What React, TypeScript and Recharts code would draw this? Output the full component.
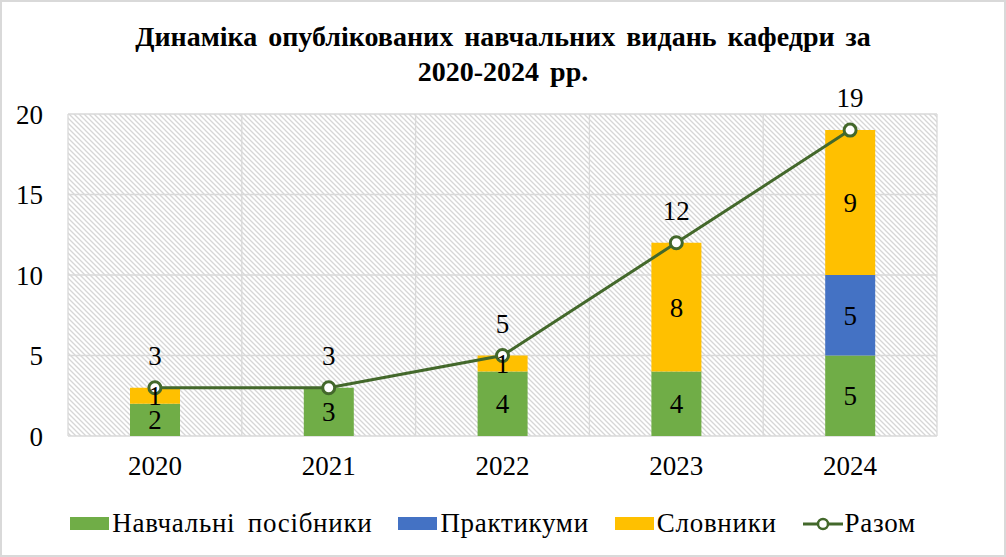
import { ComposedChart, Bar, Line, XAxis, YAxis, CartesianGrid, LabelList } from "recharts";

const years = ["2020", "2021", "2022", "2023", "2024"];
const textbooks = [2, 3, 4, 4, 5];
const practicums = [0, 0, 0, 0, 5];
const dictionaries = [1, 0, 1, 8, 9];
const totals = [3, 3, 5, 12, 19];
const yTicks = [0, 5, 10, 15, 20];

const series = [
  { key: "textbooks", name: "Навчальні посібники", color: "#70AD47", type: "bar" },
  { key: "practicums", name: "Практикуми", color: "#4472C4", type: "bar" },
  { key: "dictionaries", name: "Словники", color: "#FFC000", type: "bar" },
  { key: "total", name: "Разом", color: "#43682B", type: "line" },
];

const data = years.map((year, i) => ({
  year,
  textbooks: textbooks[i],
  practicums: practicums[i],
  dictionaries: dictionaries[i],
  total: totals[i],
}));

const font = '"Liberation Serif", serif';
const fs = 27;
const hideZero = (v: any) => (v ? v : "");

export default function App() {
  return (
    <div
      style={{
        position: "absolute",
        left: 0,
        top: 0,
        width: 1006,
        height: 557,
        background: "#fff",
        fontFamily: font,
        outline: "2px solid #d9d9d9",
        outlineOffset: -2,
      }}
    >
      <div
        style={{
          position: "absolute",
          left: 0,
          top: 19,
          width: 1006,
          textAlign: "center",
          fontFamily: font,
          fontWeight: "bold",
          fontSize: 28,
          lineHeight: "35px",
          wordSpacing: 4,
          color: "#000",
        }}
      >
        Динаміка опублікованих навчальних видань кафедри за
        <br />
        2020-2024 рр.
      </div>
      <ComposedChart
        width={1006}
        height={557}
        data={data}
        margin={{ top: 114, right: 0, bottom: 0, left: 0 }}
        style={{ fontFamily: font }}
      >
        <defs>
          <pattern id="hatch" width="5" height="5" patternUnits="userSpaceOnUse">
            <rect width="5" height="5" fill="#ffffff" />
            <path d="M-1,-1 L6,6 M-1,4 L1,6 M4,-1 L6,1" stroke="#d6d6d6" strokeWidth="1.3" />
          </pattern>
        </defs>
        <CartesianGrid
          fill="url(#hatch)"
          fillOpacity={1}
          stroke="#d9d9d9"
          strokeWidth={1.3}
          yAxisId="left"
          verticalCoordinatesGenerator={({ offset }: any) =>
            years.concat([""]).map((_, i) => offset.left + (i * offset.width) / years.length)
          }
        />
        <XAxis
          dataKey="year"
          height={121}
          axisLine={false}
          tickLine={false}
          tickSize={0}
          tickMargin={20}
          tick={{ fill: "#000", fontSize: fs, fontFamily: font }}
        />
        <YAxis
          yAxisId="left"
          width={68}
          domain={[0, 20]}
          ticks={yTicks}
          axisLine={false}
          tickLine={false}
          tickSize={0}
          tickMargin={25}
          tick={{ fill: "#000", fontSize: fs, fontFamily: font }}
        />
        <YAxis
          yAxisId="right"
          orientation="right"
          width={69}
          domain={[0, 20]}
          ticks={yTicks}
          axisLine={false}
          tickLine={false}
          tickSize={0}
          tickMargin={25}
          tick={{ fill: "#000", fontSize: fs, fontFamily: font, textAnchor: "start" }}
        />
        {series
          .filter((s) => s.type === "bar")
          .map((s) => (
            <Bar
              key={s.key}
              yAxisId="left"
              dataKey={s.key}
              name={s.name}
              stackId="a"
              fill={s.color}
              barSize={50}
              isAnimationActive={false}
            >
              <LabelList
                dataKey={s.key}
                position="center"
                formatter={hideZero}
                style={{ fill: "#000", fontSize: fs, fontFamily: font }}
              />
            </Bar>
          ))}
        <Line
          yAxisId="left"
          dataKey="total"
          name="Разом"
          type="linear"
          stroke="#43682B"
          strokeWidth={3}
          dot={{ r: 6, fill: "#fff", stroke: "#43682B", strokeWidth: 3 }}
          isAnimationActive={false}
        >
          <LabelList
            dataKey="total"
            position="top"
            offset={23}
            style={{ fill: "#000", fontSize: fs, fontFamily: font }}
          />
        </Line>
      </ComposedChart>
      <div
        style={{
          position: "absolute",
          left: 0,
          top: 508,
          width: 1012,
          display: "flex",
          justifyContent: "center",
          alignItems: "center",
          fontFamily: font,
          fontSize: fs,
          wordSpacing: 5,
          letterSpacing: 0.7,
          color: "#000",
          whiteSpace: "nowrap",
        }}
      >
        {series.map((s) => (
          <div key={s.key} style={{ display: "flex", alignItems: "center", marginRight: 26 }}>
            {s.type === "bar" ? (
              <div style={{ width: 39, height: 13, background: s.color, marginRight: 3 }} />
            ) : (
              <svg width={40} height={14} style={{ marginRight: 2 }}>
                <line x1={0} y1={7} x2={40} y2={7} stroke={s.color} strokeWidth={3} />
                <circle cx={20} cy={7} r={5} fill="#fff" stroke={s.color} strokeWidth={2.5} />
              </svg>
            )}
            <span>{s.name}</span>
          </div>
        ))}
      </div>
    </div>
  );
}
